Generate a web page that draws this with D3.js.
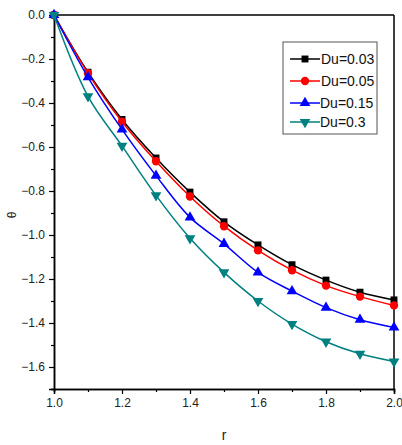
<!DOCTYPE html>
<html><head><meta charset="utf-8">
<script src="https://cdnjs.cloudflare.com/ajax/libs/d3/7.8.5/d3.min.js"></script>
<style>body{margin:0;background:#fff}svg{display:block}text{font-family:"Liberation Sans",Arial,sans-serif}</style>
</head><body><svg id="c" width="402" height="445"></svg>
<script>
const rValues = [1.0,1.1,1.2,1.3,1.4,1.5,1.6,1.7,1.8,1.9,2.0];
const du003 = [0,-0.26,-0.475,-0.65,-0.805,-0.94,-1.045,-1.135,-1.205,-1.26,-1.295];
const du005 = [0,-0.265,-0.485,-0.665,-0.825,-0.96,-1.07,-1.16,-1.23,-1.28,-1.32];
const du015 = [0,-0.283,-0.52,-0.73,-0.92,-1.04,-1.17,-1.255,-1.33,-1.385,-1.42];
const du03  = [0,-0.37,-0.595,-0.82,-1.015,-1.17,-1.30,-1.405,-1.485,-1.54,-1.575];
const seriesNames = ["Du=0.03","Du=0.05","Du=0.15","Du=0.3"];
const xTicks = [1.0,1.2,1.4,1.6,1.8,2.0];
const yTicks = [0.0,-0.2,-0.4,-0.6,-0.8,-1.0,-1.2,-1.4,-1.6];

const colors = ["#000000","#ff0000","#0000ff","#008080"];
const symbols = [d3.symbolSquare, d3.symbolCircle, d3.symbolTriangle, "tridown"];
const seriesData = [du003,du005,du015,du03];

const svg = d3.select("#c");
const L=54,R=394,T=15,B=389;
const x = d3.scaleLinear().domain([1.0,2.0]).range([L,R]);
const y = d3.scaleLinear().domain([-1.7,0]).range([B,T]);

// frame
svg.append("line").attr("x1",L).attr("x2",R).attr("y1",T).attr("y2",T).attr("stroke","#000").attr("stroke-width",1.5);
svg.append("line").attr("x1",R).attr("x2",R).attr("y1",T).attr("y2",B).attr("stroke","#000").attr("stroke-width",1.5);

const fmt = d3.format(".1f");
const xAxis = d3.axisBottom(x).tickValues(xTicks).tickFormat(fmt).tickSize(5).tickPadding(4);
const xMinor = d3.axisBottom(x).tickValues(d3.range(1.1,2.0,0.2)).tickFormat("").tickSize(3);
const yAxis = d3.axisLeft(y).tickValues(yTicks).tickFormat(fmt).tickSize(5).tickPadding(4);
const yMinor = d3.axisLeft(y).tickValues([-0.1,-0.3,-0.5,-0.7,-0.9,-1.1,-1.3,-1.5,-1.7]).tickFormat("").tickSize(3);

function style(g){
  g.select(".domain").attr("stroke","#000").attr("stroke-width",1.5);
  g.selectAll(".tick line").attr("stroke","#000").attr("stroke-width",1.2);
  g.selectAll("text").attr("font-size","12px").attr("fill","#222").style("font-family","'Liberation Sans',Arial,sans-serif");
}
svg.append("g").attr("transform",`translate(0,${B})`).call(xMinor).call(style);
svg.append("g").attr("transform",`translate(0,${B})`).call(xAxis).call(style);
svg.append("g").attr("transform",`translate(${L},0)`).call(yMinor).call(style);
svg.append("g").attr("transform",`translate(${L},0)`).call(yAxis).call(style);

svg.append("text").attr("x",224).attr("y",440).attr("text-anchor","middle").attr("font-size","14px").attr("fill","#222").text("r");
svg.append("text").attr("transform","translate(16,215) rotate(-90)").attr("text-anchor","middle").attr("font-size","12px").attr("fill","#222").text("θ");

const line = d3.line().x((d,i)=>x(rValues[i])).y(d=>y(d)).curve(d3.curveCatmullRom);

function drawMarker(g, k, cx, cy){
  const c = colors[k];
  if (symbols[k]==="tridown"){
    g.append("path").attr("d",d3.symbol(d3.symbolTriangle).size(50)()).attr("transform",`translate(${cx},${cy}) rotate(180)`).attr("fill",c);
  } else {
    const sz = k===0?48:k===1?55:50;
    g.append("path").attr("d",d3.symbol(symbols[k]).size(sz)()).attr("transform",`translate(${cx},${cy})`).attr("fill",c);
  }
}

seriesData.forEach((vals,k)=>{
  const g = svg.append("g");
  g.append("path").attr("d",line(vals)).attr("fill","none").attr("stroke",colors[k]).attr("stroke-width",1.5);
  vals.forEach((v,i)=>drawMarker(g,k,x(rValues[i]),y(v)));
});

// legend
const lg = svg.append("g");
lg.append("rect").attr("x",283).attr("y",42).attr("width",94).attr("height",92).attr("fill","#fff").attr("stroke","#555").attr("stroke-width",1);
const ly = [59,81,103,122];
seriesNames.forEach((n,k)=>{
  lg.append("line").attr("x1",290).attr("x2",320).attr("y1",ly[k]).attr("y2",ly[k]).attr("stroke",colors[k]).attr("stroke-width",1.5);
  drawMarker(lg,k,305,ly[k]);
  lg.append("text").attr("x",k<2?321:320).attr("y",ly[k]+5).attr("font-size","14px").attr("fill","#111").text(n);
});
</script></body></html>
